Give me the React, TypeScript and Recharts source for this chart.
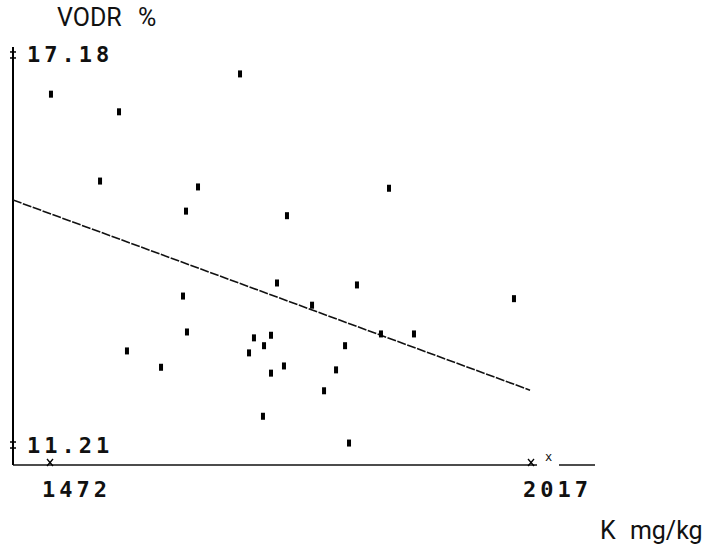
import { ScatterChart, Scatter, XAxis, YAxis } from 'recharts';

// K mg/kg vs VODR %
const kValues = [
  1473.1, 1550.2, 1687.3, 1528.7, 1639.7, 1626.1, 1740.5, 1856.1, 1622.7, 1627.2,
  1559.2, 1597.8, 1729.2, 1819.8, 1768.9, 1697.5, 1703.1, 1714.5, 1722.4, 1722.4,
  1737.1, 1713.3, 1796.1, 1782.5, 1806.3, 1810.8, 1847.0, 1884.4, 1997.7,
];
const vodrValues = [
  16.58, 16.31, 16.89, 15.25, 15.16, 14.79, 14.72, 15.14, 13.49, 12.94,
  12.65, 12.4, 13.69, 13.66, 13.35, 12.62, 12.85, 12.73, 12.89, 12.31,
  12.42, 11.65, 12.36, 12.04, 12.73, 11.24, 12.91, 12.91, 13.45,
];

// regression line end points
const fitK = [1430.1, 2015.9];
const fitVodr = [14.96, 12.05];

const xTicks = [1472, 2017];
const xTickLabels = ['1472', '2017'];
const yTicks = [11.21, 17.18];
const yTickLabels = ['11.21', '17.18'];

const points = kValues.map((k, i) => ({ x: k, y: vodrValues[i] }));
const fitLine = fitK.map((k, i) => ({ x: k, y: fitVodr[i] }));

const tickFont = {
  fontFamily: '"DejaVu Sans Mono", monospace',
  fontSize: 22,
  fontWeight: 'bold' as const,
  letterSpacing: 4,
  fill: '#111',
};

const Dot = (props: any) => {
  const { cx, cy } = props;
  return <rect x={cx - 2} y={cy - 3.5} width={4} height={7} fill="#000" />;
};

const XTick = (props: any) => {
  const { x, y, payload } = props;
  const i = xTicks.indexOf(payload.value);
  const last = i === xTicks.length - 1;
  return (
    <g>
      <line x1={x - 3} y1={y - 6} x2={x + 3} y2={y + 1} stroke="#000" strokeWidth={1.3} />
      <line x1={x + 3} y1={y - 6} x2={x - 3} y2={y + 1} stroke="#000" strokeWidth={1.3} />
      {last && (
        <>
          <rect x={x + 6} y={y - 2} width={22} height={4} fill="#fff" />
          <text x={x + 14} y={y - 4} fontFamily="DejaVu Sans Mono" fontSize={12} fill="#111">x</text>
        </>
      )}
      <text x={x - 8} y={y + 24} dominantBaseline="central" {...tickFont}>
        {xTickLabels[i]}
      </text>
    </g>
  );
};

const YTick = (props: any) => {
  const { x, y, payload } = props;
  const i = yTicks.indexOf(payload.value);
  return (
    <g>
      <line x1={x - 3} y1={y - 3} x2={x + 3} y2={y - 3} stroke="#000" strokeWidth={1.5} />
      <line x1={x - 3} y1={y + 3} x2={x + 3} y2={y + 3} stroke="#000" strokeWidth={1.5} />
      <line x1={x} y1={y - 7} x2={x} y2={y + 7} stroke="#000" strokeWidth={1.5} />
      <text x={x + 14} y={y} dominantBaseline="central" {...tickFont}>
        {yTickLabels[i]}
      </text>
    </g>
  );
};

export default function App() {
  return (
    <div style={{ position: 'absolute', left: 0, top: 0, width: 717, height: 549, background: '#fff' }}>
      <ScatterChart
        width={717}
        height={549}
        margin={{ top: 47, right: 122, bottom: 54, left: 3 }}
      >
        <XAxis
          type="number"
          dataKey="x"
          domain={[1430.08, 2089.5]}
          ticks={xTicks}
          allowDataOverflow
          height={30}
          tickSize={0}
          tickMargin={0}
          tickLine={false}
          axisLine={{ stroke: '#111', strokeWidth: 1.5 }}
          tick={<XTick />}
        />
        <YAxis
          type="number"
          dataKey="y"
          domain={[10.904, 17.302]}
          ticks={yTicks}
          allowDataOverflow
          width={10}
          tickSize={0}
          tickMargin={0}
          tickLine={false}
          axisLine={{ stroke: '#000', strokeWidth: 2 }}
          tick={<YTick />}
        />
        <Scatter
          data={fitLine}
          line={{ stroke: '#111', strokeWidth: 1.6, strokeDasharray: '9 1.5' }}
          shape={() => <g />}
          isAnimationActive={false}
        />
        <Scatter data={points} shape={<Dot />} isAnimationActive={false} />
      </ScatterChart>
      <div
        style={{
          position: 'absolute',
          left: 57,
          top: 3,
          fontFamily: 'Roboto, sans-serif',
          fontSize: 25,
          wordSpacing: 10,
          color: '#111',
        }}
      >
        VODR %
      </div>
      <div
        style={{
          position: 'absolute',
          left: 600,
          top: 516,
          fontFamily: 'Roboto, sans-serif',
          fontSize: 25,
          wordSpacing: 8,
          color: '#111',
        }}
      >
        K mg/kg
      </div>
    </div>
  );
}
